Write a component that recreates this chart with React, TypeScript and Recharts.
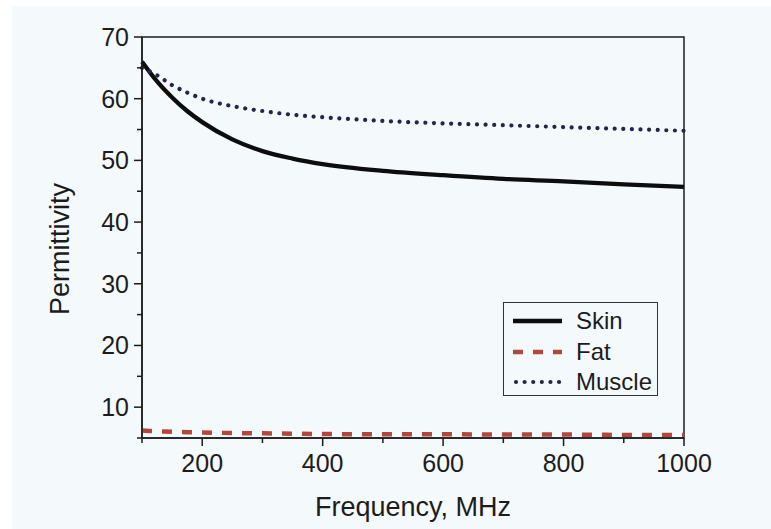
import {
  LineChart, Line, XAxis, YAxis, Legend, ReferenceArea, Label,
} from 'recharts'

// permittivity vs frequency
const FREQ_MHZ = [100, 125, 150, 175, 200, 250, 300, 350, 400, 500, 600, 700, 800, 900, 1000]
const SKIN     = [66.0, 62.8, 60.2, 58.0, 56.2, 53.4, 51.5, 50.3, 49.4, 48.3, 47.6, 47.0, 46.6, 46.1, 45.7]
const FAT      = [6.2, 6.1, 6.0, 5.95, 5.9, 5.8, 5.75, 5.7, 5.65, 5.6, 5.6, 5.55, 5.55, 5.5, 5.5]
const MUSCLE   = [65.0, 63.8, 62.2, 61.0, 60.0, 58.8, 58.0, 57.4, 57.0, 56.4, 56.0, 55.7, 55.4, 55.1, 54.8]

const X_TICKS = [100, 200, 300, 400, 500, 600, 700, 800, 900, 1000]
const X_LABELED = [200, 400, 600, 800, 1000]
const Y_TICKS = [5, 10, 15, 20, 25, 30, 35, 40, 45, 50, 55, 60, 65, 70]
const Y_LABELED = [10, 20, 30, 40, 50, 60, 70]

const FONT = '"Liberation Sans", Arial, Helvetica, sans-serif'
const INK = '#1c1c1c'
const BG = '#f4f9fc'

const SERIES = [
  { key: 'skin',   name: 'Skin',   color: '#0d0d0d', width: 4.3, dash: undefined as string | undefined, cap: 'butt' as const },
  { key: 'fat',    name: 'Fat',    color: '#b3473d', width: 4.5, dash: '10 10', cap: 'butt' as const },
  { key: 'muscle', name: 'Muscle', color: '#25234f', width: 4.2, dash: '0.01 8.6', cap: 'round' as const },
]

const rows = FREQ_MHZ.map((f, i) => ({ f, skin: SKIN[i], fat: FAT[i], muscle: MUSCLE[i] }))

function XTick({ x, y, payload }: any) {
  const major = X_LABELED.includes(payload.value)
  return (
    <g>
      <line x1={x} x2={x} y1={y} y2={y + (major ? 8 : 5)} stroke={INK} strokeWidth={1.5} />
      {major && (
        <text x={x} y={y + 34} textAnchor="middle" fontSize={25} fill={INK} fontFamily={FONT}>
          {payload.value}
        </text>
      )}
    </g>
  )
}

function YTick({ x, y, payload }: any) {
  const major = Y_LABELED.includes(payload.value)
  return (
    <g>
      <line x1={x - (major ? 8 : 5)} x2={x} y1={y} y2={y} stroke={INK} strokeWidth={1.5} />
      {major && (
        <text x={x - 13} y={y + 9} textAnchor="end" fontSize={25} fill={INK} fontFamily={FONT}>
          {payload.value}
        </text>
      )}
    </g>
  )
}

function LegendBox() {
  return (
    <div style={{
      width: 155, height: 94, boxSizing: 'border-box', border: '1.5px solid #333',
      background: BG, paddingTop: 3, fontFamily: FONT,
    }}>
      {SERIES.map(s => (
        <div key={s.key} style={{ display: 'flex', alignItems: 'center', height: 30.5 }}>
          <svg width={72} height={20} style={{ flex: 'none' }}>
            <line x1={s.cap === 'round' ? 12 : 9} x2={58} y1={10} y2={10}
                  stroke={s.color} strokeWidth={s.width} strokeDasharray={s.dash}
                  strokeLinecap={s.cap} />
          </svg>
          <span style={{ fontSize: 24, color: INK, lineHeight: 1 }}>{s.name}</span>
        </div>
      ))}
    </div>
  )
}

export default function App() {
  return (
    <div style={{ position: 'relative', width: 771, height: 529, background: '#fff', overflow: 'hidden' }}>
      <style>{'body{margin:0}'}</style>
      <div style={{ position: 'absolute', left: 12, top: 6, right: 0, bottom: 0, background: BG }} />
      <div style={{ position: 'absolute', left: 0, top: 0 }}>
        <LineChart width={771} height={529} data={rows}
                   margin={{ top: 37, right: 87, bottom: 0, left: 0 }}>
          <XAxis dataKey="f" type="number" domain={[100, 1000]} ticks={X_TICKS}
                 height={91} tickSize={0} tickMargin={0} tickLine={false}
                 axisLine={{ stroke: INK, strokeWidth: 1.5 }} tick={XTick} interval={0}>
            <Label content={({ viewBox }: any) => (
              <text x={viewBox.x + viewBox.width / 2} y={viewBox.y + 78} textAnchor="middle"
                    fontSize={27} fill={INK} fontFamily={FONT}>Frequency, MHz</text>
            )} />
          </XAxis>
          <YAxis type="number" domain={[5, 70]} ticks={Y_TICKS} width={142}
                 tickSize={0} tickMargin={0} tickLine={false} interval={0}
                 axisLine={{ stroke: INK, strokeWidth: 1.5 }} tick={YTick}>
            <Label content={() => (
              <text x={69} y={249} transform="rotate(-90 69 249)" textAnchor="middle"
                    fontSize={27} fill={INK} fontFamily={FONT}>Permittivity</text>
            )} />
          </YAxis>
          <ReferenceArea x1={100} x2={1000} y1={5} y2={70} fill="none"
                         stroke={INK} strokeWidth={1.5} />
          {SERIES.map(s => (
            <Line key={s.key} dataKey={s.key} name={s.name} type="monotone" dot={false}
                  stroke={s.color} strokeWidth={s.width} strokeDasharray={s.dash}
                  strokeLinecap={s.cap} isAnimationActive={false} />
          ))}
          <Legend layout="vertical" align="center" verticalAlign="middle"
                  wrapperStyle={{ left: 503, top: 302, width: 155 }}
                  content={() => <LegendBox />} />
        </LineChart>
      </div>
    </div>
  )
}
